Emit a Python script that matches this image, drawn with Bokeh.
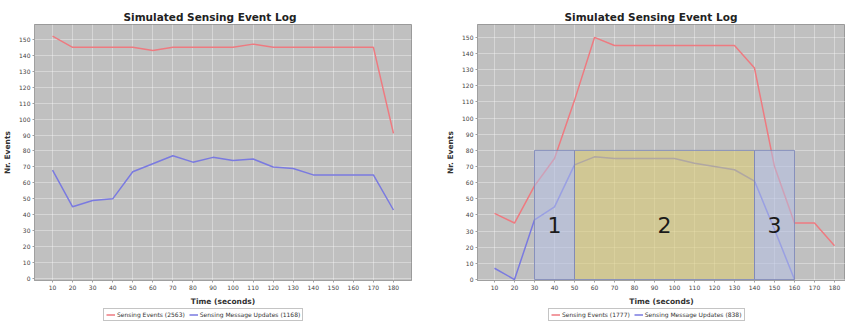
import math
from bokeh.plotting import figure
from bokeh.layouts import row, column
from bokeh.models import Range1d, FixedTicker, Legend, LegendItem, ColumnDataSource
from bokeh.core.properties import value
from bokeh.embed import file_html
from bokeh.resources import INLINE

# ---------------- data ----------------
time_s = [10, 20, 30, 40, 50, 60, 70, 80, 90, 100, 110, 120, 130, 140, 150, 160, 170, 180]

left_events = [152, 145, 145, 145, 145, 143, 145, 145, 145, 145, 147, 145, 145, 145, 145, 145, 145, 91]
left_updates = [68, 45, 49, 50, 67, 72, 77, 73, 76, 74, 75, 70, 69, 65, 65, 65, 65, 43]

right_events = [41, 35, 58, 75, 111, 150, 145, 145, 145, 145, 145, 145, 145, 131, 70, 35, 35, 21]
right_updates = [7, 0, 37, 45, 71, 76, 75, 75, 75, 75, 72, 70, 68, 61, 31, 0, float("nan"), float("nan")]

left_legend = ["Sensing Events (2563)", "Sensing Message Updates (1168)"]
right_legend = ["Sensing Events (1777)", "Sensing Message Updates (838)"]

phase_names = ["1", "2", "3"]
phase_start = [30, 50, 140]
phase_end = [50, 140, 160]
phase_top = 80
phase_label_y = 34
phase_colors = ["#b4c0e4", "#dccc70", "#b4c0e4"]

y_ticks = list(range(0, 151, 10))
x_ticks = time_s

TITLE = "Simulated Sensing Event Log"
FONT = "DejaVu Sans"
RED = "#ee7a80"
BLUE = "#7a7ae0"


def make_fig(width, xr, yr, border_left, border_right, events, updates, title_offset):
    p = figure(width=width, height=308, output_backend="svg", toolbar_location=None,
               x_range=Range1d(*xr), y_range=Range1d(*yr),
               min_border_left=border_left, min_border_right=border_right,
               min_border_top=24, min_border_bottom=25)
    p.title.text = TITLE
    p.title.text_font = FONT
    p.title.text_font_size = "10.5px"
    p.title.text_font_style = "bold"
    p.title.text_color = "#222222"
    p.title.align = "left"
    p.title.offset = title_offset
    p.title.standoff = 4

    p.background_fill_color = "#c0c0c0"
    p.border_fill_color = "white"
    p.outline_line_color = "#9a9a9a"
    p.outline_line_width = 1

    for ax in (p.xaxis[0], p.yaxis[0]):
        ax.major_label_text_font = FONT
        ax.major_label_text_font_size = "6px"
        ax.major_label_text_color = "#444444"
        ax.axis_label_text_font = FONT
        ax.axis_label_text_font_size = "7.5px"
        ax.axis_label_text_font_style = "bold"
        ax.axis_label_text_color = "#333333"
        ax.axis_line_color = "#a0a0a0"
        ax.major_tick_line_color = "#a0a0a0"
        ax.major_tick_out = 2
        ax.major_tick_in = 0
        ax.minor_tick_line_color = None
        ax.major_label_standoff = 2
        ax.axis_label_standoff = 4
    p.xaxis.ticker = FixedTicker(ticks=x_ticks)
    p.yaxis.ticker = FixedTicker(ticks=y_ticks)
    p.xaxis.axis_label = "Time (seconds)"
    p.yaxis.axis_label = "Nr. Events"

    p.xgrid.ticker = FixedTicker(ticks=x_ticks)
    p.ygrid.ticker = FixedTicker(ticks=y_ticks)
    p.grid.grid_line_color = "white"
    p.grid.grid_line_alpha = 0.35
    p.grid.grid_line_width = 1

    p.line(time_s, events, line_color=RED, line_width=1.5)
    p.line(time_s, updates, line_color=BLUE, line_width=1.5)
    return p


def make_legend_fig(width, labels, legend_x):
    q = figure(width=width, height=14, output_backend="svg", toolbar_location=None,
               x_axis_location=None, y_axis_location=None,
               x_range=Range1d(0, 1), y_range=Range1d(0, 1),
               min_border_left=0, min_border_right=0, min_border_top=0, min_border_bottom=0)
    q.grid.visible = False
    q.outline_line_color = None
    q.background_fill_color = "white"
    q.border_fill_color = "white"
    # legend-only renderers, kept outside the visible range
    r1 = q.line([-5, -4], [-5, -4], line_color=RED, line_width=1.5)
    r2 = q.line([-5, -4], [-5, -4], line_color=BLUE, line_width=1.5)
    legend = Legend(items=[LegendItem(label=labels[0], renderers=[r1]),
                           LegendItem(label=labels[1], renderers=[r2])],
                    orientation="horizontal", location=(legend_x, 1))
    legend.label_text_font = FONT
    legend.label_text_font_size = "6px"
    legend.label_text_color = "#333333"
    legend.label_height = 7
    legend.label_standoff = 2
    legend.glyph_width = 9
    legend.glyph_height = 7
    legend.spacing = 4
    legend.padding = 2
    legend.margin = 0
    legend.border_line_color = "#8a8a8a"
    legend.border_line_width = 1
    legend.background_fill_color = "white"
    legend.background_fill_alpha = 1
    q.add_layout(legend, "center")
    return q


p1 = make_fig(420, (1.0, 189.0), (-1.2, 159.3), 33, 9, left_events, left_updates, 89)
p2 = make_fig(425, (1.5, 185.5), (-0.6, 158.0), 57, 0, right_events, right_updates, 87)
l1 = make_legend_fig(420, left_legend, 69)
l2 = make_legend_fig(425, right_legend, 71)

# phases on the right chart
src = ColumnDataSource(dict(
    left=phase_start, right=phase_end,
    bottom=[0] * len(phase_start), top=[phase_top] * len(phase_start),
    color=phase_colors,
    cx=[(a + b) / 2 for a, b in zip(phase_start, phase_end)],
    cy=[phase_label_y] * len(phase_start),
    name=phase_names,
))
p2.quad(left="left", right="right", bottom="bottom", top="top", source=src,
        fill_color="color", fill_alpha=0.55, line_color="#8088b8", line_alpha=0.9,
        line_width=1)
p2.text(x="cx", y="cy", text="name", source=src, text_font=value(FONT),
        text_font_size="22px", text_align="center", text_baseline="middle",
        text_color="#1a1a1a")

layout = row(column(p1, l1), column(p2, l2))
open("out.html", "w").write(file_html(layout, INLINE))
